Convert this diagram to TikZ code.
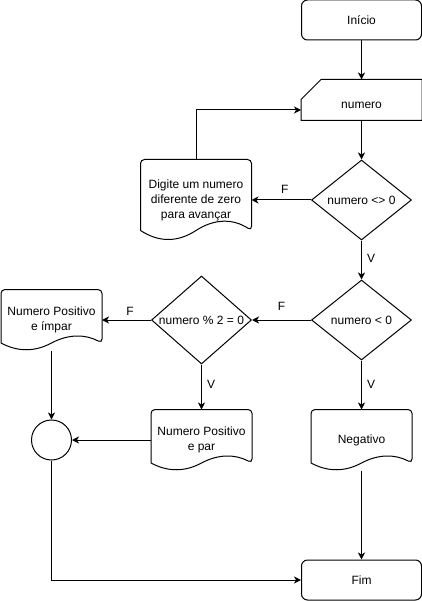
\documentclass[tikz,border=0pt]{standalone}
\usepackage{fontspec}
\setmainfont{Liberation Sans}
\usetikzlibrary{shapes.geometric,arrows.meta,calc}

% Outline of a flowchart "document" symbol around node #1, wave depth #2
\newcommand\docoutline[2]{%
  \draw ($(#1.south west)+(0,{-#2/2})$) [rounded corners=4pt] -- (#1.north west) -- (#1.north east)
    -- ($(#1.south east)+(0,{-#2/2})$) [sharp corners]
    .. controls ($(#1.south west)!5/6!(#1.south east)+(0,{-1.1*#2})$)
            and ($(#1.south west)!2/3!(#1.south east)+(0,{-1.1*#2})$)
    .. ($(#1.south)+(0,{-#2/2})$)
    .. controls ($(#1.south west)!1/3!(#1.south east)+(0,{0.1*#2})$)
            and ($(#1.south west)!1/6!(#1.south east)+(0,{0.1*#2})$)
    .. ($(#1.south west)+(0,{-#2/2})$) -- cycle;}

\begin{document}
\begin{tikzpicture}[x=1pt, y=-1pt, line width=1pt,
  font=\fontsize{12}{15}\selectfont,
  terminal/.style={draw, rounded corners=6pt, minimum width=120pt, minimum height=40pt, inner sep=0pt},
  inputbox/.style={minimum width=120pt, minimum height=40pt, inner sep=0pt},
  decision/.style={draw, diamond, inner sep=0pt, minimum width=100pt, minimum height=80pt},
  docbox/.style={minimum width=100pt, minimum height=60pt, inner sep=0pt, align=center},
  junction/.style={draw, circle, minimum size=40pt, inner sep=0pt},
  arr/.style={-{Stealth[length=7pt,width=7pt,inset=2pt]}},
  lbl/.style={inner sep=0pt, text height=8.6pt, text depth=0pt}]

\useasboundingbox (0,0) rectangle (422,601);

% nodes
\node[terminal] (ini) at (361.5,20) {Início};
\node[inputbox, label={[yshift=-5pt]center:numero}] (in) at (361.5,100) {};
\draw ($(in.north west)+(20,0)$) -- (in.north east) -- (in.south east)
  -- (in.south west) -- ($(in.north west)+(0,20)$) -- cycle;

\node[decision, label={center:numero <> 0}] (d1) at (361.5,200) {};
\node[docbox, minimum width=110pt, minimum height=80pt] (dig) at (196,200)
  {Digite um numero\\diferente de zero\\para avançar};
\docoutline{dig}{20}

\node[decision, label={center:numero < 0}] (d2) at (361.5,320) {};
\node[decision, minimum height=88pt, label={center:numero \% 2 = 0}] (d3) at (201.5,320) {};

\node[docbox] (imp) at (51.5,320) {Numero Positivo\\e ímpar};
\docoutline{imp}{15}
\node[docbox] (par) at (201.5,440) {Numero Positivo\\e par};
\docoutline{par}{15}
\node[docbox] (neg) at (361.5,440) {Negativo};
\docoutline{neg}{15}

\node[junction] (junc) at (51.5,440) {};
\node[terminal] (fim) at (361.5,580) {Fim};

% connectors
\draw[arr] (ini) -- (in);
\draw[arr] (in) -- (d1);
\draw[arr] (d1) -- node[lbl, pos=0.44, above=5.7pt] {F} (dig);
\draw[arr] (dig.north) |- ([yshift=-10pt]in.west);
\draw[arr] (d1) -- node[lbl, pos=0.45, right=5pt] {V} (d2);
\draw[arr] (d2) -- node[lbl, pos=0.5, above=8.7pt] {F} (d3);
\draw[arr] (d3) -- node[lbl, pos=0.43, above=3.7pt] {F} (imp);
\draw[arr] (d3) -- node[lbl, pos=0.43, right=5pt] {V} (par);
\draw[arr] (d2) -- node[lbl, pos=0.48, right=5pt] {V} (neg);
\draw[arr] (imp) -- (junc);
\draw[arr] (par) -- (junc);
\draw[arr] (junc) |- (fim);
\draw[arr] (neg) -- (fim);
\end{tikzpicture}
\end{document}
